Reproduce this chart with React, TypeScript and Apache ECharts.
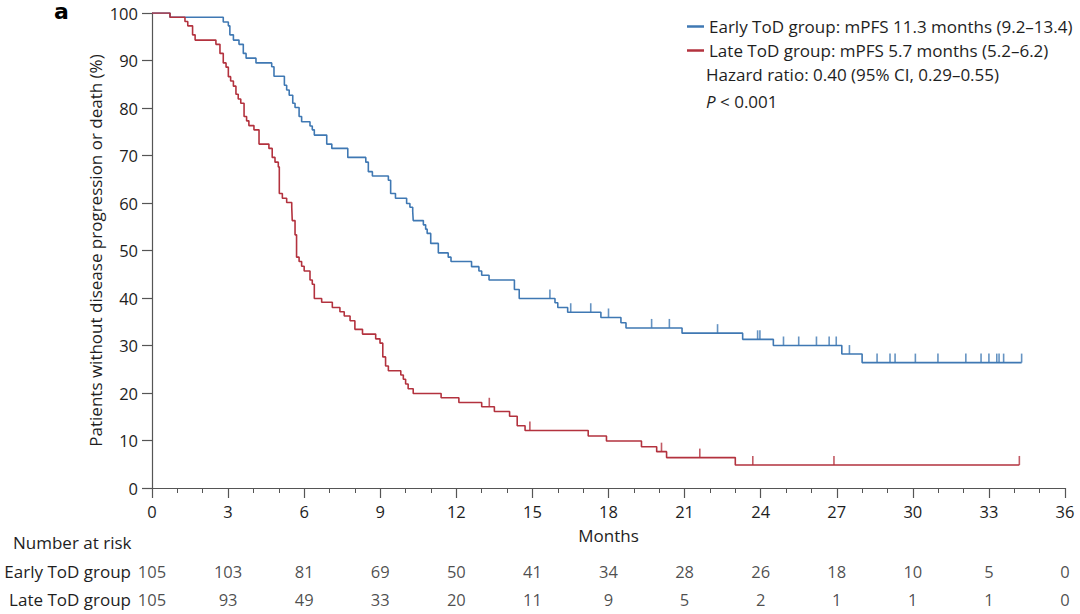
import { useEffect, useRef } from 'react';
import * as echarts from 'echarts';

// Kaplan-Meier steps: [month, % without progression]
const earlyCurve: [number, number][] = [
  [0, 100], [0.71, 99.1], [2.81, 98.1], [3.01, 97.3], [3.07, 95.4], [3.21, 94.3], [3.43, 93.4],
  [3.6, 91.5], [3.71, 90.5], [4.1, 89.5], [4.72, 88.7], [4.81, 86.7], [5.22, 84.8], [5.31, 83.8],
  [5.41, 82.7], [5.55, 81.0], [5.64, 80.1], [5.8, 78.2], [5.9, 77.1], [6.23, 76.2], [6.32, 75.4],
  [6.4, 74.3], [6.89, 72.4], [7.09, 71.5], [7.72, 69.6], [8.43, 68.6], [8.53, 66.6], [8.69, 65.7],
  [9.32, 64.8], [9.41, 62.0], [9.6, 61.0], [10.04, 59.9], [10.17, 59.1], [10.28, 58.2], [10.3, 56.3],
  [10.7, 55.4], [10.79, 54.5], [10.85, 53.6], [10.99, 51.5], [11.29, 49.5], [11.68, 48.6],
  [11.79, 47.7], [12.6, 46.6], [12.89, 45.7], [13.0, 44.8], [13.29, 43.8], [14.29, 41.8],
  [14.48, 39.9], [15.89, 39.0], [16.0, 38.0], [16.39, 37.0], [17.7, 35.9], [18.49, 34.8],
  [18.69, 33.7], [20.9, 32.6], [23.29, 31.3], [24.5, 30.0], [27.2, 28.2], [28.0, 26.4], [34.29, 26.4],
];

const lateCurve: [number, number][] = [
  [0, 100], [0.71, 99.1], [1.3, 98.2], [1.41, 97.3], [1.6, 95.4], [1.7, 94.3], [2.52, 93.4],
  [2.68, 91.5], [2.81, 89.5], [2.92, 88.6], [3.01, 86.6], [3.1, 85.7], [3.21, 84.6], [3.31, 82.9],
  [3.4, 81.9], [3.5, 81.0], [3.63, 78.2], [3.73, 77.3], [3.82, 76.3], [4.02, 75.4], [4.22, 72.4],
  [4.61, 71.5], [4.74, 69.6], [4.85, 68.6], [4.98, 67.6], [5.02, 62.0], [5.14, 61.0], [5.31, 60.1],
  [5.51, 59.1], [5.53, 56.3], [5.64, 53.3], [5.7, 48.6], [5.8, 47.7], [5.9, 46.7], [6.0, 45.7],
  [6.23, 43.8], [6.32, 42.9], [6.4, 39.9], [6.69, 39.1], [7.11, 38.0], [7.41, 37.1], [7.58, 36.2],
  [7.81, 35.2], [8.0, 33.4], [8.3, 32.4], [8.82, 31.4], [8.99, 30.5], [9.1, 27.6], [9.21, 25.7],
  [9.32, 24.7], [9.81, 23.8], [9.91, 22.9], [10.0, 21.9], [10.1, 20.9], [10.3, 19.9], [11.4, 19.0],
  [12.1, 18.0], [13.0, 17.1], [13.5, 16.1], [14.1, 15.1], [14.4, 13.1], [14.71, 12.1], [17.2, 10.95],
  [17.92, 9.9], [19.3, 8.7], [19.9, 7.65], [20.29, 6.4], [23.0, 4.85], [34.2, 4.85],
];

// censoring times (months)
const earlyCensor = [
  15.69, 16.51, 17.3, 18.0, 19.7, 20.4, 22.3, 23.88, 23.97, 24.9, 25.5, 26.2, 26.7, 26.98, 27.5,
  28.59, 29.1, 29.3, 30.1, 30.99, 32.09, 32.69, 33.0, 33.31, 33.4, 33.58, 34.29,
];
const lateCensor = [13.3, 14.9, 20.09, 21.6, 23.69, 26.89, 34.2];

// number at risk
const riskMonths = [0, 3, 6, 9, 12, 15, 18, 21, 24, 27, 30, 33, 36];
const riskEarly = [105, 103, 81, 69, 50, 41, 34, 28, 26, 18, 10, 5, 0];
const riskLate = [105, 93, 49, 33, 20, 11, 9, 5, 2, 1, 1, 1, 0];

const groups = ['Early ToD group', 'Late ToD group'];
const legendNames = [
  'Early ToD group: mPFS 11.3 months (9.2–13.4)',
  'Late ToD group: mPFS 5.7 months (5.2–6.2)',
];

const BLUE = '#3f78b3';
const RED = '#b3323e';
const FONT = '"Open Sans", Roboto, sans-serif';
const TEXT = '#1e1e1e';
const AXIS = '#555';
const FS = 17;

function levelAt(curve: [number, number][], t: number) {
  let v = curve[0][1];
  for (const [x, y] of curve) {
    if (x <= t) v = y;
    else break;
  }
  return v;
}

export default function App() {
  const chartRef = useRef<HTMLDivElement>(null);

  useEffect(() => {
    if (!chartRef.current) return;
    const chart = echarts.init(chartRef.current, null, { renderer: 'svg' });

    const censorSeries = (times: number[], curve: [number, number][], color: string) => ({
      type: 'scatter',
      xAxisIndex: 0,
      yAxisIndex: 0,
      symbol: 'rect',
      symbolSize: [1.6, 9],
      symbolOffset: [0, -4.5],
      itemStyle: { color },
      silent: true,
      data: times.map(t => [t, levelAt(curve, t)]),
    });

    const riskSeries = (row: number, values: number[]) => ({
      type: 'scatter',
      xAxisIndex: 1,
      yAxisIndex: 1,
      symbolSize: 1,
      itemStyle: { color: 'transparent' },
      silent: true,
      label: {
        show: true,
        position: 'inside',
        formatter: (p: any) => String(p.value[2]),
        fontSize: 16.5,
        fontFamily: FONT,
        color: TEXT,
      },
      data: riskMonths.map((m, i) => [m, row, values[i]]),
    });

    const option = {
      animation: false,
      textStyle: { fontFamily: FONT },
      grid: [
        { left: 152, right: 15, top: 13, bottom: 126 },
        { left: 152, right: 15, top: 557, height: 56 },
      ],
      legend: {
        data: legendNames,
        orient: 'vertical',
        left: 682,
        top: 13,
        icon: 'rect',
        itemWidth: 17,
        itemHeight: 2.5,
        itemGap: 7,
        selectedMode: false,
        textStyle: { fontSize: FS, color: TEXT, fontFamily: FONT },
      },
      graphic: [
        {
          type: 'text',
          left: 54,
          top: 0,
          style: { text: 'a', fontSize: 22, fontWeight: 900, fontFamily: '"DejaVu Sans", sans-serif', fill: '#000' },
        },
        {
          type: 'text',
          left: 706,
          top: 66,
          style: { text: 'Hazard ratio: 0.40 (95% CI, 0.29–0.55)', fontSize: FS, fontFamily: FONT, fill: TEXT },
        },
        {
          type: 'text',
          left: 706,
          top: 93,
          style: {
            text: '{i|P} < 0.001',
            fontSize: FS,
            fontFamily: FONT,
            fill: TEXT,
            rich: { i: { fontStyle: 'italic', fontSize: FS, fontFamily: FONT, fill: TEXT } },
          },
        },
        {
          type: 'text',
          left: 13,
          top: 534,
          style: { text: 'Number at risk', fontSize: FS, fontFamily: FONT, fill: TEXT },
        },
      ],
      xAxis: [
        {
          type: 'value',
          gridIndex: 0,
          min: 0,
          max: 36,
          interval: 3,
          name: 'Months',
          nameLocation: 'middle',
          nameGap: 39,
          nameTextStyle: { fontSize: FS, color: TEXT, fontFamily: FONT },
          axisLine: { show: true, lineStyle: { color: AXIS, width: 1.2 } },
          axisTick: { show: true, length: 10, lineStyle: { color: AXIS, width: 1.2 } },
          minorTick: { show: true, splitNumber: 3, length: 5, lineStyle: { color: AXIS, width: 1 } },
          axisLabel: { fontSize: 16.5, color: TEXT, margin: 15, fontFamily: FONT },
          splitLine: { show: false },
        },
        {
          type: 'value',
          gridIndex: 1,
          min: 0,
          max: 36,
          show: false,
        },
      ],
      yAxis: [
        {
          type: 'value',
          gridIndex: 0,
          min: 0,
          max: 100,
          interval: 10,
          name: 'Patients without disease progression or death (%)',
          nameLocation: 'middle',
          nameGap: 48,
          nameMoveOverlap: false,
          nameTextStyle: { fontSize: FS, color: TEXT, fontFamily: FONT },
          axisLine: { show: true, lineStyle: { color: AXIS, width: 1.2 } },
          axisTick: { show: true, length: 10, lineStyle: { color: AXIS, width: 1.2 } },
          axisLabel: { fontSize: 16.5, color: TEXT, margin: 14, fontFamily: FONT },
          splitLine: { show: false },
        },
        {
          type: 'category',
          gridIndex: 1,
          inverse: true,
          data: groups,
          axisLine: { show: false },
          axisTick: { show: false },
          axisLabel: { fontSize: FS, color: TEXT, margin: 21, fontFamily: FONT },
        },
      ],
      series: [
        {
          name: legendNames[0],
          type: 'line',
          step: 'end',
          showSymbol: false,
          color: BLUE,
          lineStyle: { width: 1.6, color: BLUE },
          data: earlyCurve,
          silent: true,
        },
        {
          name: legendNames[1],
          type: 'line',
          step: 'end',
          showSymbol: false,
          color: RED,
          lineStyle: { width: 1.6, color: RED },
          data: lateCurve,
          silent: true,
        },
        censorSeries(earlyCensor, earlyCurve, BLUE),
        censorSeries(lateCensor, lateCurve, RED),
        riskSeries(0, riskEarly),
        riskSeries(1, riskLate),
      ],
    };

    chart.setOption(option as any);

    return () => {
      chart.dispose();
    };
  }, []);

  return (
    <div
      ref={chartRef}
      style={{ position: 'absolute', left: 0, top: 0, width: 1080, height: 614, background: '#fff' }}
    />
  );
}
